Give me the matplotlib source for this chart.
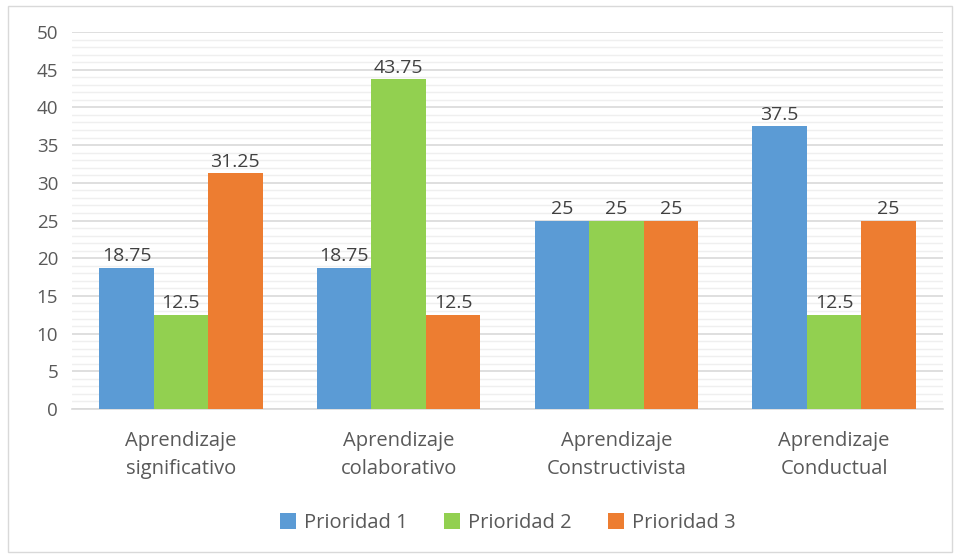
import matplotlib
matplotlib.use("Agg")
import matplotlib.pyplot as plt
import numpy as np
from matplotlib.patches import Rectangle
from matplotlib.ticker import MultipleLocator

categories = ["Aprendizaje\nsignificativo", "Aprendizaje\ncolaborativo",
              "Aprendizaje\nConstructivista", "Aprendizaje\nConductual"]
series_names = ["Prioridad 1", "Prioridad 2", "Prioridad 3"]
prioridad1 = [18.75, 18.75, 25, 37.5]
prioridad2 = [12.5, 43.75, 25, 12.5]
prioridad3 = [31.25, 12.5, 25, 25]
colors = ["#5B9BD5", "#92D050", "#ED7D31"]
text_color = "#595959"

plt.rcParams['font.family'] = ['Open Sans', 'DejaVu Sans']

fig = plt.figure(figsize=(9.6, 5.6), dpi=100)
ax = fig.add_axes([72/960, 1-409/560, (943-72)/960, (409-32)/560])

x = np.arange(len(categories))
w = 0.25
for i, (vals, name) in enumerate(zip([prioridad1, prioridad2, prioridad3], series_names)):
    pos = x + (i-1)*w
    ax.bar(pos, vals, width=w, color=colors[i], label=name, zorder=3)
    for xp, v in zip(pos, vals):
        ax.text(xp, v + 0.3, f"{v:g}", ha="center", va="bottom",
                fontsize=14, color="#404040", zorder=4)

ax.set_xlim(-0.5, 3.5)
ax.set_ylim(0, 50)
ax.yaxis.set_major_locator(MultipleLocator(5))
ax.yaxis.set_minor_locator(MultipleLocator(1))
ax.grid(axis="y", which="major", color="#D9D9D9", linewidth=1.2, zorder=0)
ax.grid(axis="y", which="minor", color="#EFEFEF", linewidth=1.0, zorder=0)
for s in ["top", "right", "left"]:
    ax.spines[s].set_visible(False)
ax.spines["bottom"].set_color("#D9D9D9")
ax.spines["bottom"].set_linewidth(1.2)
ax.tick_params(axis="both", which="both", length=0, colors=text_color)
ax.tick_params(axis="y", labelsize=13.5, pad=10)
ax.tick_params(axis="x", labelsize=14.5, pad=16)
ax.set_xticks(x)
ax.set_xticklabels(categories, color=text_color, linespacing=1.55)
for lbl in ax.get_yticklabels():
    lbl.set_color(text_color)

fig.legend(loc="center", bbox_to_anchor=(508/960, 1-523/560), ncol=3, frameon=False,
           fontsize=14.5, handlelength=0.8, handleheight=0.8, handletextpad=0.4,
           columnspacing=1.8, labelcolor=text_color)

fig.patches.append(Rectangle((8/960, 8/560), 944/960, 546/560, transform=fig.transFigure,
                             fill=False, edgecolor="#D9D9D9", linewidth=1.0))

fig.savefig("out.png", dpi=100)
